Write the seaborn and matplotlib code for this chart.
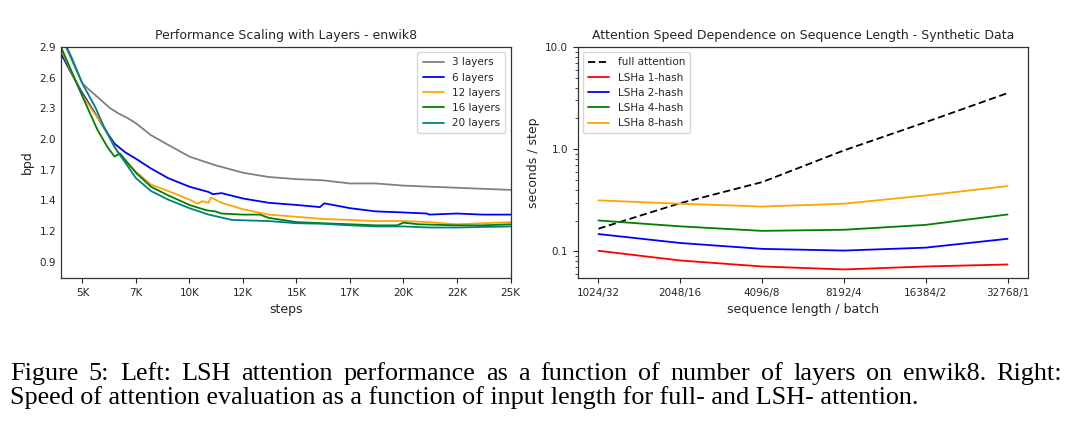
import numpy as np
import pandas as pd
import seaborn as sns
import matplotlib
matplotlib.use("Agg")
import matplotlib.pyplot as plt
from matplotlib.ticker import LogLocator, NullFormatter

# left panel: bpd vs training steps (thousands)
steps_3 = [4.0, 4.5, 5.0, 5.5, 5.9, 6.3, 6.7, 7.1, 7.5, 8.2, 9.0, 10.0, 11.2, 12.5, 13.7, 15.0, 16.2, 17.5, 18.7, 20.0, 21.2, 22.5, 23.7, 25.0]
bpd_3 = [3.0, 2.78, 2.56, 2.47, 2.40, 2.33, 2.28, 2.24, 2.19, 2.08, 1.99, 1.88, 1.80, 1.73, 1.69, 1.67, 1.66, 1.63, 1.63, 1.61, 1.60, 1.59, 1.58, 1.57]
steps_6 = [4.0, 4.5, 5.0, 5.6, 6.0, 6.5, 7.0, 7.5, 8.2, 9.0, 10.0, 10.9, 11.1, 11.5, 12.5, 13.7, 15.0, 16.1, 16.3, 17.5, 18.7, 20.0, 21.1, 21.2, 22.5, 23.7, 25.0]
bpd_6 = [2.84, 2.65, 2.47, 2.28, 2.15, 2.00, 1.92, 1.86, 1.77, 1.68, 1.60, 1.55, 1.53, 1.54, 1.49, 1.45, 1.43, 1.41, 1.445, 1.40, 1.37, 1.36, 1.35, 1.34, 1.35, 1.34, 1.34]
steps_12 = [4.0, 4.5, 5.0, 5.5, 5.9, 6.7, 7.5, 8.2, 9.0, 10.0, 10.4, 10.6, 10.9, 11.0, 11.5, 12.5, 13.7, 15.0, 16.2, 17.5, 18.7, 20.0, 21.2, 22.5, 23.7, 25.0]
bpd_12 = [2.88, 2.66, 2.45, 2.30, 2.19, 1.90, 1.74, 1.62, 1.56, 1.48, 1.44, 1.465, 1.45, 1.50, 1.45, 1.39, 1.34, 1.32, 1.30, 1.29, 1.28, 1.28, 1.27, 1.25, 1.26, 1.27]
steps_16 = [4.0, 4.5, 5.0, 5.7, 6.2, 6.5, 6.75, 7.0, 7.5, 8.2, 9.0, 10.0, 10.8, 11.2, 11.5, 12.5, 13.3, 13.7, 15.0, 16.2, 17.5, 18.7, 19.7, 20.0, 20.7, 22.5, 23.7, 25.0]
bpd_16 = [2.9, 2.67, 2.44, 2.13, 1.96, 1.88, 1.91, 1.85, 1.73, 1.60, 1.52, 1.43, 1.38, 1.37, 1.35, 1.34, 1.34, 1.31, 1.27, 1.26, 1.25, 1.24, 1.24, 1.265, 1.25, 1.24, 1.24, 1.25]
steps_20 = [4.2, 4.5, 5.0, 5.6, 6.0, 6.5, 7.5, 8.2, 9.0, 10.0, 10.9, 12.0, 13.7, 15.0, 16.2, 17.5, 18.7, 20.0, 21.2, 22.5, 23.7, 25.0]
bpd_20 = [2.93, 2.80, 2.56, 2.34, 2.16, 1.97, 1.68, 1.56, 1.48, 1.40, 1.34, 1.29, 1.28, 1.26, 1.255, 1.24, 1.23, 1.23, 1.22, 1.22, 1.225, 1.23]

layer_names = ["3 layers", "6 layers", "12 layers", "16 layers", "20 layers"]
layer_colors = ["grey", "blue", "orange", "green", "teal"]
step_ticks = [5000, 7500, 10000, 12500, 15000, 17500, 20000, 22500, 25000]
step_labels = ["5K", "7K", "10K", "12K", "15K", "17K", "20K", "22K", "25K"]
bpd_labels = ["0.9", "1.2", "1.4", "1.7", "2.0", "2.3", "2.6", "2.9"]

# right panel: seconds per step
seq_labels = ["1024/32", "2048/16", "4096/8", "8192/4", "16384/2", "32768/1"]
full_attn = [0.167, 0.297, 0.477, 0.974, 1.84, 3.54]
lsh_1 = [0.1015, 0.0816, 0.0713, 0.0667, 0.0713, 0.0746]
lsh_2 = [0.148, 0.121, 0.106, 0.102, 0.109, 0.133]
lsh_4 = [0.201, 0.176, 0.159, 0.163, 0.182, 0.230]
lsh_8 = [0.316, 0.293, 0.275, 0.293, 0.353, 0.436]
speed_names = ["full attention", "LSHa 1-hash", "LSHa 2-hash", "LSHa 4-hash", "LSHa 8-hash"]
speed_colors = ["black", "red", "blue", "green", "orange"]

caption_1 = "Figure 5:  Left:  LSH attention performance as a function of number of layers on enwik8.  Right:"
caption_2 = "Speed of attention evaluation as a function of input length for full- and LSH- attention."

sns.set_style("white")
plt.rcParams["font.family"] = ["DejaVu Sans"]
plt.rcParams["font.size"] = 7.5

fig = plt.figure(figsize=(10.72, 4.24), dpi=100)
ax1 = fig.add_axes([61/1072, 1-278/424, 449.5/1072, 231/424])
ax2 = fig.add_axes([578/1072, 1-278/424, 450/1072, 231/424])

left = pd.concat([
    pd.DataFrame({"steps": np.array(s) * 1000, "bpd": v, "model": n})
    for s, v, n in zip([steps_3, steps_6, steps_12, steps_16, steps_20],
                       [bpd_3, bpd_6, bpd_12, bpd_16, bpd_20], layer_names)
])
sns.lineplot(data=left, x="steps", y="bpd", hue="model", palette=layer_colors,
             hue_order=layer_names, sort=False, lw=1.3, ax=ax1)
ax1.set_xlim(4000, 25000)
ax1.set_ylim(0.75, 2.9)
ax1.set_xticks(step_ticks)
ax1.set_xticklabels(step_labels)
ax1.set_yticks(np.linspace(0.9, 2.9, 8))
ax1.set_yticklabels(bpd_labels)
ax1.tick_params(axis="x", length=3.5, width=0.8, direction="out", bottom=True, labelsize=7.5)
ax1.tick_params(axis="y", length=0, labelsize=7.5)
ax1.set_xlabel("steps", fontsize=9)
ax1.set_ylabel("bpd", fontsize=9)
ax1.set_title("Performance Scaling with Layers - enwik8", fontsize=9)
ax1.legend(loc="upper right", fontsize=7.5, handlelength=2.0, borderpad=0.5)

right = pd.concat([
    pd.DataFrame({"x": range(len(seq_labels)), "sec": v, "method": n})
    for v, n in zip([full_attn, lsh_1, lsh_2, lsh_4, lsh_8], speed_names)
])
sns.lineplot(data=right, x="x", y="sec", hue="method", palette=speed_colors,
             hue_order=speed_names, lw=1.3, ax=ax2)
ax2.lines[0].set_linestyle((0, (4, 2)))
ax2.set_yscale("log")
ax2.set_ylim(0.055, 10)
ax2.set_xlim(-0.25, 5.25)
ax2.set_xticks(range(len(seq_labels)))
ax2.set_xticklabels(seq_labels)
ax2.set_yticks([0.1, 1.0, 10.0])
ax2.set_yticklabels(["0.1", "1.0", "10.0"])
ax2.yaxis.set_minor_locator(LogLocator(base=10, subs=np.arange(2, 10)))
ax2.yaxis.set_minor_formatter(NullFormatter())
ax2.tick_params(axis="both", which="major", length=3.5, width=0.8, direction="out", left=True, bottom=True, labelsize=7.5)
ax2.tick_params(axis="y", which="minor", length=2, width=0.6, direction="out", left=True)
ax2.set_xlabel("sequence length / batch", fontsize=9)
ax2.set_ylabel("seconds / step", fontsize=9)
ax2.set_title("Attention Speed Dependence on Sequence Length - Synthetic Data", fontsize=9)
leg = ax2.legend(loc="upper left", fontsize=7.5, handlelength=2.0, borderpad=0.5)
leg.get_lines()[0].set_linestyle((0, (4, 2)))

for ax in (ax1, ax2):
    for sp in ax.spines.values():
        sp.set_color("#333333")
        sp.set_linewidth(0.9)

# caption: first line justified across the full width, second line left-aligned
cap_font = dict(family="Liberation Serif", fontsize=18.8, color="black")
x0, x1 = 10, 1062
renderer = fig.canvas.get_renderer()
words = caption_1.split()
items = [fig.text(0, 1-380/424, w, **cap_font) for w in words]
widths = [t.get_window_extent(renderer).width for t in items]
gap = (x1 - x0 - sum(widths)) / (len(words) - 1)
pos = x0
for t, w in zip(items, widths):
    t.set_x(pos / 1072)
    pos += w + gap
fig.text(x0/1072, 1-404/424, caption_2, **cap_font)

fig.savefig("out.png", dpi=100, facecolor="white")
